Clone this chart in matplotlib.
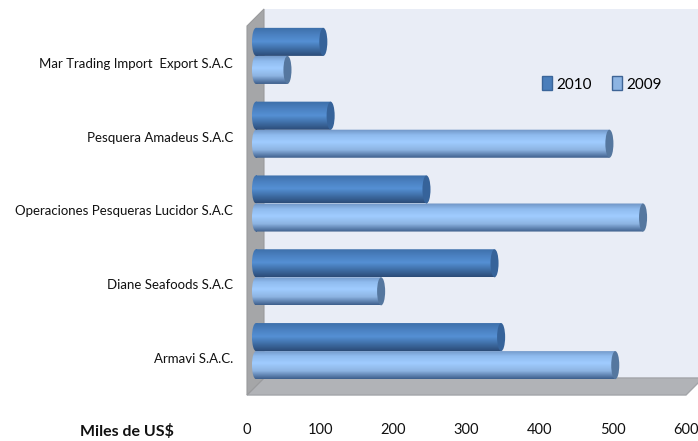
import numpy as np
import matplotlib
matplotlib.use('Agg')
import matplotlib.pyplot as plt
from matplotlib.colors import LinearSegmentedColormap
from matplotlib.patches import Ellipse, Patch, PathPatch, Polygon
from matplotlib.path import Path
from matplotlib.transforms import Affine2D, IdentityTransform

plt.rcParams['font.family'] = ['Lato', 'DejaVu Sans']

# Data, top row first
companies = ['Mar Trading Import  Export S.A.C', 'Pesquera Amadeus S.A.C',
             'Operaciones Pesqueras Lucidor S.A.C', 'Diane Seafoods S.A.C', 'Armavi S.A.C.']
values_2010 = [92, 102, 233, 326, 335]
values_2009 = [43, 483, 529, 171, 491]
x_ticks = [0, 100, 200, 300, 400, 500, 600]

W, H = 698, 441
fig = plt.figure(figsize=(W / 100, H / 100), dpi=100, facecolor='white')
# front plane of the 3D box: x 247-686, y 26-395 in pixels
ax = fig.add_axes([247 / W, 1 - 395 / H, 439 / W, 369 / H])
ax.set_xlim(0, 600)
ax.set_ylim(5, 0)
for s in ax.spines.values():
    s.set_visible(False)
ax.patch.set_visible(False)

# Box walls, corners in axes units plus a depth flag
DEPTH = 17
def corner(x, y, d):
    return ax.transAxes.transform((x, y)) + d * DEPTH

def wall(corners, **kw):
    pts = [corner(*c) for c in corners]
    fig.add_artist(Polygon(pts, closed=True, transform=IdentityTransform(), zorder=-5, **kw))

wall([(0, 0, 1), (1.03, 0, 1), (1.03, 1, 1), (0, 1, 1)], facecolor='#E9EDF6', edgecolor='none')
wall([(0, 0, 0), (1, 0, 0), (1, 0, 1), (0, 0, 1)], facecolor='#B1B3B7', edgecolor='#A3A5A9', linewidth=1)
wall([(0, 0, 0), (0, 1, 0), (0, 1, 1), (0, 0, 1)], facecolor='#A5A6A8', edgecolor='#9A9B9D', linewidth=0.8)

# Bars sit 9 px right and 7 px up of the front plane
shift = Affine2D().translate(9, 7)
bar_tr = ax.transData + shift

cmap_2010 = LinearSegmentedColormap.from_list('c2010', [(0, '#3C6EA8'), (0.25, '#4A80C0'), (0.5, '#5590D4'),
                                                        (0.75, '#3F6EA6'), (1, '#2C4C78')])
cmap_2009 = LinearSegmentedColormap.from_list('c2009', [(0, '#6F94C4'), (0.2, '#8FBBEE'), (0.45, '#A0CCFF'),
                                                        (0.72, '#8DB4E2'), (1, '#3E5F8C')])
grad = np.linspace(0, 1, 64).reshape(-1, 1)
CAP_W = 11
BAR_H = 0.38

def draw_bar(val, y, cmap, cap_color):
    top, bot = y - BAR_H / 2, y + BAR_H / 2
    rect = Path([(0, top), (val, top), (val, bot), (0, bot), (0, top)], closed=True)
    left = Path.unit_circle().transformed(Affine2D().scale(CAP_W / 2, BAR_H / 2).translate(0, y))
    clip = Path.make_compound_path(rect, left)
    img = ax.imshow(grad, cmap=cmap, extent=(-CAP_W / 2, val, bot, top), aspect='auto',
                    transform=bar_tr, zorder=3, origin='upper')
    img.set_clip_path(PathPatch(clip, transform=bar_tr))
    ax.add_patch(Ellipse((val, y), CAP_W, BAR_H, facecolor=cap_color, edgecolor='none',
                         transform=bar_tr, zorder=3.5))

for i in range(len(companies)):
    draw_bar(values_2009[i], i + 0.5 + BAR_H / 2, cmap_2009, '#55779F')
    draw_bar(values_2010[i], i + 0.5 - BAR_H / 2, cmap_2010, '#36639A')

ax.set_xlim(0, 600)
ax.set_ylim(5, 0)
ax.set_xticks(x_ticks)
ax.set_yticks(np.arange(len(companies)) + 0.5)
ax.set_yticklabels(companies)
ax.tick_params(axis='x', length=0, pad=20, labelsize=10.5, labelcolor='#111111')
ax.tick_params(axis='y', length=0, pad=10, labelsize=9.5, labelcolor='#111111')

fig.text(127 / W, 1 - 432 / H, 'Miles de US$', ha='center', va='center', fontsize=11.5, fontweight='bold', color='#111111')

leg = ax.legend(handles=[Patch(facecolor='#4A7EBB', edgecolor='#3A659A', label='2010'),
                         Patch(facecolor='#8DB4E2', edgecolor='#3E6496', label='2009')],
                ncol=2, frameon=False, fontsize=11, loc='center', handlelength=0.65, handleheight=1.0,
                handletextpad=0.3, columnspacing=1.3, borderpad=0,
                bbox_to_anchor=(602 / W, 1 - 84 / H), bbox_transform=fig.transFigure)
leg.set_zorder(5)

fig.savefig('out.png', dpi=100)
